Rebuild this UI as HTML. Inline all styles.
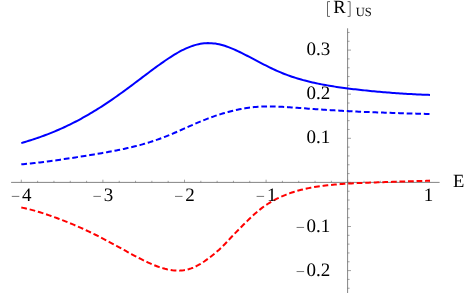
<!DOCTYPE html>
<html><head><meta charset="utf-8"><style>
html,body{margin:0;padding:0;background:#fff;}
svg{display:block;font-family:"Liberation Serif",serif;fill:#000;will-change:transform;}
text{text-rendering:geometricPrecision;}
</style></head><body>
<svg width="474" height="293" viewBox="0 0 474 293">
<rect width="474" height="293" fill="#fff"/>
<g stroke="#646464" fill="none">
<line x1="11.1" y1="182.4" x2="439.6" y2="182.4" stroke-width="0.8"/>
<line x1="347.6" y1="28.3" x2="347.6" y2="293" stroke-width="0.8"/>
<line x1="21.30" y1="182.4" x2="21.30" y2="179.70000000000002" stroke-width="0.6"/>
<line x1="37.62" y1="182.4" x2="37.62" y2="180.8" stroke-width="0.6"/>
<line x1="53.94" y1="182.4" x2="53.94" y2="180.8" stroke-width="0.6"/>
<line x1="70.26" y1="182.4" x2="70.26" y2="180.8" stroke-width="0.6"/>
<line x1="86.58" y1="182.4" x2="86.58" y2="180.8" stroke-width="0.6"/>
<line x1="102.90" y1="182.4" x2="102.90" y2="179.70000000000002" stroke-width="0.6"/>
<line x1="119.22" y1="182.4" x2="119.22" y2="180.8" stroke-width="0.6"/>
<line x1="135.54" y1="182.4" x2="135.54" y2="180.8" stroke-width="0.6"/>
<line x1="151.86" y1="182.4" x2="151.86" y2="180.8" stroke-width="0.6"/>
<line x1="168.18" y1="182.4" x2="168.18" y2="180.8" stroke-width="0.6"/>
<line x1="184.50" y1="182.4" x2="184.50" y2="179.70000000000002" stroke-width="0.6"/>
<line x1="200.82" y1="182.4" x2="200.82" y2="180.8" stroke-width="0.6"/>
<line x1="217.14" y1="182.4" x2="217.14" y2="180.8" stroke-width="0.6"/>
<line x1="233.46" y1="182.4" x2="233.46" y2="180.8" stroke-width="0.6"/>
<line x1="249.78" y1="182.4" x2="249.78" y2="180.8" stroke-width="0.6"/>
<line x1="266.10" y1="182.4" x2="266.10" y2="179.70000000000002" stroke-width="0.6"/>
<line x1="282.42" y1="182.4" x2="282.42" y2="180.8" stroke-width="0.6"/>
<line x1="298.74" y1="182.4" x2="298.74" y2="180.8" stroke-width="0.6"/>
<line x1="315.06" y1="182.4" x2="315.06" y2="180.8" stroke-width="0.6"/>
<line x1="331.38" y1="182.4" x2="331.38" y2="180.8" stroke-width="0.6"/>
<line x1="347.70" y1="182.4" x2="347.70" y2="179.70000000000002" stroke-width="0.6"/>
<line x1="364.02" y1="182.4" x2="364.02" y2="180.8" stroke-width="0.6"/>
<line x1="380.34" y1="182.4" x2="380.34" y2="180.8" stroke-width="0.6"/>
<line x1="396.66" y1="182.4" x2="396.66" y2="180.8" stroke-width="0.6"/>
<line x1="412.98" y1="182.4" x2="412.98" y2="180.8" stroke-width="0.6"/>
<line x1="429.30" y1="182.4" x2="429.30" y2="179.70000000000002" stroke-width="0.6"/>
<line x1="347.6" y1="288.24" x2="349.6" y2="288.24" stroke-width="0.6"/>
<line x1="347.6" y1="279.42" x2="349.6" y2="279.42" stroke-width="0.6"/>
<line x1="347.6" y1="270.60" x2="351.0" y2="270.60" stroke-width="0.6"/>
<line x1="347.6" y1="261.78" x2="349.6" y2="261.78" stroke-width="0.6"/>
<line x1="347.6" y1="252.96" x2="349.6" y2="252.96" stroke-width="0.6"/>
<line x1="347.6" y1="244.14" x2="349.6" y2="244.14" stroke-width="0.6"/>
<line x1="347.6" y1="235.32" x2="349.6" y2="235.32" stroke-width="0.6"/>
<line x1="347.6" y1="226.50" x2="351.0" y2="226.50" stroke-width="0.6"/>
<line x1="347.6" y1="217.68" x2="349.6" y2="217.68" stroke-width="0.6"/>
<line x1="347.6" y1="208.86" x2="349.6" y2="208.86" stroke-width="0.6"/>
<line x1="347.6" y1="200.04" x2="349.6" y2="200.04" stroke-width="0.6"/>
<line x1="347.6" y1="191.22" x2="349.6" y2="191.22" stroke-width="0.6"/>
<line x1="347.6" y1="182.40" x2="351.0" y2="182.40" stroke-width="0.6"/>
<line x1="347.6" y1="173.58" x2="349.6" y2="173.58" stroke-width="0.6"/>
<line x1="347.6" y1="164.76" x2="349.6" y2="164.76" stroke-width="0.6"/>
<line x1="347.6" y1="155.94" x2="349.6" y2="155.94" stroke-width="0.6"/>
<line x1="347.6" y1="147.12" x2="349.6" y2="147.12" stroke-width="0.6"/>
<line x1="347.6" y1="138.30" x2="351.0" y2="138.30" stroke-width="0.6"/>
<line x1="347.6" y1="129.48" x2="349.6" y2="129.48" stroke-width="0.6"/>
<line x1="347.6" y1="120.66" x2="349.6" y2="120.66" stroke-width="0.6"/>
<line x1="347.6" y1="111.84" x2="349.6" y2="111.84" stroke-width="0.6"/>
<line x1="347.6" y1="103.02" x2="349.6" y2="103.02" stroke-width="0.6"/>
<line x1="347.6" y1="94.20" x2="351.0" y2="94.20" stroke-width="0.6"/>
<line x1="347.6" y1="85.38" x2="349.6" y2="85.38" stroke-width="0.6"/>
<line x1="347.6" y1="76.56" x2="349.6" y2="76.56" stroke-width="0.6"/>
<line x1="347.6" y1="67.74" x2="349.6" y2="67.74" stroke-width="0.6"/>
<line x1="347.6" y1="58.92" x2="349.6" y2="58.92" stroke-width="0.6"/>
<line x1="347.6" y1="50.10" x2="351.0" y2="50.10" stroke-width="0.6"/>
<line x1="347.6" y1="41.28" x2="349.6" y2="41.28" stroke-width="0.6"/>
<line x1="347.6" y1="32.46" x2="349.6" y2="32.46" stroke-width="0.6"/>
</g>
<path d="M21.30,143.10 L23.17,142.54 L25.03,141.98 L26.90,141.41 L28.76,140.82 L30.63,140.23 L32.50,139.62 L34.36,139.00 L36.23,138.38 L38.10,137.73 L39.96,137.08 L41.83,136.41 L43.69,135.73 L45.56,135.03 L47.43,134.32 L49.29,133.60 L51.16,132.85 L53.03,132.10 L54.89,131.33 L56.76,130.54 L58.62,129.73 L60.49,128.91 L62.36,128.08 L64.22,127.22 L66.09,126.35 L67.96,125.47 L69.82,124.56 L71.69,123.64 L73.55,122.70 L75.42,121.74 L77.29,120.77 L79.15,119.78 L81.02,118.77 L82.88,117.74 L84.75,116.70 L86.62,115.64 L88.48,114.56 L90.35,113.47 L92.22,112.35 L94.08,111.23 L95.95,110.08 L97.81,108.92 L99.68,107.74 L101.55,106.54 L103.41,105.33 L105.28,104.11 L107.15,102.87 L109.01,101.61 L110.88,100.34 L112.74,99.06 L114.61,97.76 L116.48,96.45 L118.34,95.13 L120.21,93.79 L122.08,92.45 L123.94,91.09 L125.81,89.72 L127.67,88.35 L129.54,86.97 L131.41,85.58 L133.27,84.19 L135.14,82.79 L137.01,81.39 L138.87,79.98 L140.74,78.58 L142.60,77.17 L144.47,75.76 L146.34,74.36 L148.20,72.96 L150.07,71.56 L151.93,70.17 L153.80,68.79 L155.67,67.42 L157.53,66.06 L159.40,64.71 L161.27,63.38 L163.13,62.07 L165.00,60.77 L166.86,59.50 L168.73,58.26 L170.60,57.04 L172.46,55.85 L174.33,54.69 L176.20,53.58 L178.06,52.50 L179.93,51.46 L181.79,50.48 L183.66,49.54 L185.53,48.66 L187.39,47.83 L189.26,47.06 L191.13,46.35 L192.99,45.71 L194.86,45.13 L196.72,44.62 L198.59,44.18 L200.46,43.82 L202.32,43.53 L204.19,43.32 L206.05,43.18 L207.92,43.11 L209.79,43.13 L211.65,43.21 L213.52,43.38 L215.39,43.61 L217.25,43.92 L219.12,44.30 L220.98,44.75 L222.85,45.26 L224.72,45.82 L226.58,46.45 L228.45,47.12 L230.32,47.85 L232.18,48.61 L234.05,49.41 L235.91,50.25 L237.78,51.11 L239.65,52.00 L241.51,52.91 L243.38,53.85 L245.25,54.79 L247.11,55.75 L248.98,56.72 L250.84,57.70 L252.71,58.68 L254.58,59.66 L256.44,60.65 L258.31,61.63 L260.17,62.60 L262.04,63.57 L263.91,64.53 L265.77,65.47 L267.64,66.41 L269.51,67.33 L271.37,68.23 L273.24,69.11 L275.10,69.98 L276.97,70.82 L278.84,71.64 L280.70,72.44 L282.57,73.21 L284.44,73.96 L286.30,74.68 L288.17,75.37 L290.03,76.04 L291.90,76.69 L293.77,77.31 L295.63,77.91 L297.50,78.49 L299.37,79.04 L301.23,79.57 L303.10,80.09 L304.96,80.59 L306.83,81.06 L308.70,81.53 L310.56,81.97 L312.43,82.41 L314.29,82.82 L316.16,83.23 L318.03,83.62 L319.89,84.00 L321.76,84.36 L323.63,84.72 L325.49,85.06 L327.36,85.39 L329.22,85.71 L331.09,86.03 L332.96,86.33 L334.82,86.62 L336.69,86.91 L338.56,87.18 L340.42,87.45 L342.29,87.71 L344.15,87.97 L346.02,88.22 L347.89,88.46 L349.75,88.69 L351.62,88.92 L353.49,89.15 L355.35,89.36 L357.22,89.58 L359.08,89.79 L360.95,89.99 L362.82,90.19 L364.68,90.38 L366.55,90.58 L368.42,90.76 L370.28,90.95 L372.15,91.13 L374.01,91.30 L375.88,91.47 L377.75,91.64 L379.61,91.81 L381.48,91.97 L383.34,92.13 L385.21,92.29 L387.08,92.44 L388.94,92.59 L390.81,92.74 L392.68,92.88 L394.54,93.02 L396.41,93.16 L398.27,93.29 L400.14,93.42 L402.01,93.55 L403.87,93.67 L405.74,93.79 L407.61,93.90 L409.47,94.02 L411.34,94.12 L413.20,94.22 L415.07,94.32 L416.94,94.41 L418.80,94.50 L420.67,94.58 L422.54,94.66 L424.40,94.73 L426.27,94.79 L428.13,94.85 L430.00,94.90" fill="none" stroke="#0000ff" stroke-width="2.0" stroke-linejoin="round"/>
<path d="M21.30,164.30 L23.16,164.15 L25.03,163.99 L26.89,163.83 L28.76,163.65 L30.62,163.46 L32.48,163.27 L34.35,163.07 L36.21,162.86 L38.08,162.64 L39.94,162.42 L41.80,162.19 L43.67,161.96 L45.53,161.72 L47.39,161.47 L49.26,161.22 L51.12,160.97 L52.99,160.71 L54.85,160.45 L56.71,160.19 L58.58,159.92 L60.44,159.65 L62.31,159.38 L64.17,159.11 L66.03,158.83 L67.90,158.55 L69.76,158.27 L71.63,157.99 L73.49,157.70 L75.35,157.42 L77.22,157.13 L79.08,156.84 L80.95,156.55 L82.81,156.25 L84.67,155.96 L86.54,155.66 L88.40,155.36 L90.27,155.05 L92.13,154.75 L93.99,154.44 L95.86,154.13 L97.72,153.82 L99.58,153.50 L101.45,153.18 L103.31,152.85 L105.18,152.52 L107.04,152.19 L108.90,151.85 L110.77,151.51 L112.63,151.16 L114.50,150.80 L116.36,150.44 L118.22,150.07 L120.09,149.69 L121.95,149.31 L123.82,148.91 L125.68,148.51 L127.54,148.10 L129.41,147.67 L131.27,147.24 L133.14,146.79 L135.00,146.33 L136.86,145.86 L138.73,145.38 L140.59,144.88 L142.46,144.36 L144.32,143.83 L146.18,143.28 L148.05,142.72 L149.91,142.14 L151.77,141.54 L153.64,140.92 L155.50,140.29 L157.37,139.63 L159.23,138.96 L161.09,138.27 L162.96,137.57 L164.82,136.84 L166.69,136.11 L168.55,135.36 L170.41,134.59 L172.28,133.81 L174.14,133.02 L176.01,132.22 L177.87,131.41 L179.73,130.60 L181.60,129.77 L183.46,128.95 L185.33,128.12 L187.19,127.29 L189.05,126.46 L190.92,125.63 L192.78,124.81 L194.65,124.00 L196.51,123.19 L198.37,122.40 L200.24,121.62 L202.10,120.85 L203.96,120.09 L205.83,119.35 L207.69,118.63 L209.56,117.92 L211.42,117.24 L213.28,116.57 L215.15,115.92 L217.01,115.29 L218.88,114.68 L220.74,114.09 L222.60,113.52 L224.47,112.97 L226.33,112.44 L228.20,111.93 L230.06,111.44 L231.92,110.97 L233.79,110.52 L235.65,110.09 L237.52,109.68 L239.38,109.30 L241.24,108.94 L243.11,108.60 L244.97,108.29 L246.84,108.00 L248.70,107.73 L250.56,107.49 L252.43,107.28 L254.29,107.09 L256.15,106.92 L258.02,106.79 L259.88,106.67 L261.75,106.58 L263.61,106.51 L265.47,106.47 L267.34,106.44 L269.20,106.44 L271.07,106.45 L272.93,106.48 L274.79,106.52 L276.66,106.58 L278.52,106.65 L280.39,106.73 L282.25,106.83 L284.11,106.93 L285.98,107.04 L287.84,107.15 L289.71,107.27 L291.57,107.40 L293.43,107.53 L295.30,107.66 L297.16,107.80 L299.03,107.94 L300.89,108.08 L302.75,108.21 L304.62,108.35 L306.48,108.49 L308.34,108.63 L310.21,108.77 L312.07,108.91 L313.94,109.04 L315.80,109.17 L317.66,109.30 L319.53,109.43 L321.39,109.56 L323.26,109.68 L325.12,109.80 L326.98,109.92 L328.85,110.04 L330.71,110.15 L332.58,110.26 L334.44,110.37 L336.30,110.48 L338.17,110.59 L340.03,110.69 L341.90,110.80 L343.76,110.90 L345.62,110.99 L347.49,111.09 L349.35,111.19 L351.22,111.28 L353.08,111.37 L354.94,111.46 L356.81,111.55 L358.67,111.63 L360.53,111.72 L362.40,111.80 L364.26,111.88 L366.13,111.96 L367.99,112.04 L369.85,112.11 L371.72,112.19 L373.58,112.26 L375.45,112.34 L377.31,112.41 L379.17,112.48 L381.04,112.54 L382.90,112.61 L384.77,112.68 L386.63,112.74 L388.49,112.81 L390.36,112.87 L392.22,112.93 L394.09,112.99 L395.95,113.05 L397.81,113.11 L399.68,113.17 L401.54,113.22 L403.41,113.28 L405.27,113.34 L407.13,113.39 L409.00,113.45 L410.86,113.50 L412.72,113.55 L414.59,113.60 L416.45,113.66 L418.32,113.71 L420.18,113.76 L422.04,113.81 L423.91,113.86 L425.77,113.91 L427.64,113.96 L429.50,114.01" fill="none" stroke="#0000ff" stroke-width="2.0" stroke-dasharray="5.737,2.825"/>
<path d="M21.30,207.50 L23.17,207.87 L25.03,208.27 L26.90,208.70 L28.76,209.15 L30.63,209.62 L32.50,210.11 L34.36,210.63 L36.23,211.16 L38.10,211.71 L39.96,212.28 L41.83,212.87 L43.69,213.47 L45.56,214.08 L47.43,214.71 L49.29,215.35 L51.16,216.00 L53.03,216.67 L54.89,217.35 L56.76,218.04 L58.62,218.74 L60.49,219.45 L62.36,220.17 L64.22,220.90 L66.09,221.64 L67.96,222.39 L69.82,223.15 L71.69,223.92 L73.55,224.70 L75.42,225.49 L77.29,226.30 L79.15,227.11 L81.02,227.94 L82.88,228.78 L84.75,229.64 L86.62,230.50 L88.48,231.38 L90.35,232.27 L92.22,233.17 L94.08,234.09 L95.95,235.02 L97.81,235.95 L99.68,236.90 L101.55,237.86 L103.41,238.83 L105.28,239.81 L107.15,240.80 L109.01,241.80 L110.88,242.80 L112.74,243.81 L114.61,244.83 L116.48,245.85 L118.34,246.88 L120.21,247.90 L122.08,248.93 L123.94,249.96 L125.81,250.99 L127.67,252.01 L129.54,253.03 L131.41,254.04 L133.27,255.05 L135.14,256.04 L137.01,257.03 L138.87,258.00 L140.74,258.95 L142.60,259.89 L144.47,260.81 L146.34,261.70 L148.20,262.57 L150.07,263.42 L151.93,264.23 L153.80,265.01 L155.67,265.75 L157.53,266.45 L159.40,267.11 L161.27,267.73 L163.13,268.30 L165.00,268.81 L166.86,269.27 L168.73,269.67 L170.60,270.01 L172.46,270.28 L174.33,270.48 L176.20,270.61 L178.06,270.66 L179.93,270.62 L181.79,270.50 L183.66,270.28 L185.53,269.97 L187.39,269.56 L189.26,269.04 L191.13,268.43 L192.99,267.71 L194.86,266.89 L196.72,265.97 L198.59,264.96 L200.46,263.87 L202.32,262.70 L204.19,261.47 L206.05,260.17 L207.92,258.82 L209.79,257.42 L211.65,255.97 L213.52,254.47 L215.39,252.92 L217.25,251.31 L219.12,249.64 L220.98,247.90 L222.85,246.09 L224.72,244.20 L226.58,242.24 L228.45,240.24 L230.32,238.23 L232.18,236.23 L234.05,234.26 L235.91,232.33 L237.78,230.43 L239.65,228.54 L241.51,226.67 L243.38,224.80 L245.25,222.94 L247.11,221.09 L248.98,219.27 L250.84,217.48 L252.71,215.74 L254.58,214.05 L256.44,212.42 L258.31,210.85 L260.17,209.35 L262.04,207.91 L263.91,206.55 L265.77,205.25 L267.64,204.01 L269.51,202.83 L271.37,201.72 L273.24,200.65 L275.10,199.64 L276.97,198.68 L278.84,197.77 L280.70,196.90 L282.57,196.08 L284.44,195.30 L286.30,194.56 L288.17,193.85 L290.03,193.18 L291.90,192.55 L293.77,191.94 L295.63,191.37 L297.50,190.83 L299.37,190.32 L301.23,189.83 L303.10,189.37 L304.96,188.94 L306.83,188.53 L308.70,188.14 L310.56,187.77 L312.43,187.43 L314.29,187.10 L316.16,186.80 L318.03,186.51 L319.89,186.23 L321.76,185.98 L323.63,185.74 L325.49,185.51 L327.36,185.29 L329.22,185.09 L331.09,184.90 L332.96,184.72 L334.82,184.55 L336.69,184.40 L338.56,184.25 L340.42,184.10 L342.29,183.97 L344.15,183.84 L346.02,183.72 L347.89,183.61 L349.75,183.50 L351.62,183.40 L353.49,183.30 L355.35,183.21 L357.22,183.12 L359.08,183.04 L360.95,182.95 L362.82,182.87 L364.68,182.80 L366.55,182.73 L368.42,182.65 L370.28,182.58 L372.15,182.52 L374.01,182.45 L375.88,182.39 L377.75,182.32 L379.61,182.26 L381.48,182.20 L383.34,182.13 L385.21,182.07 L387.08,182.01 L388.94,181.95 L390.81,181.89 L392.68,181.83 L394.54,181.77 L396.41,181.71 L398.27,181.65 L400.14,181.60 L402.01,181.54 L403.87,181.48 L405.74,181.42 L407.61,181.37 L409.47,181.31 L411.34,181.25 L413.20,181.20 L415.07,181.15 L416.94,181.10 L418.80,181.05 L420.67,181.00 L422.54,180.95 L424.40,180.91 L426.27,180.87 L428.13,180.83 L430.00,180.80" fill="none" stroke="#ff0000" stroke-width="2.0" stroke-dasharray="5.734,2.824"/>
<line x1="11.80" y1="196.40" x2="19.30" y2="196.40" stroke="#3a3a3a" stroke-width="0.7"/>
<text x="22.10" y="200.70" font-size="19.0" text-anchor="start" >4</text>
<line x1="93.40" y1="196.40" x2="100.90" y2="196.40" stroke="#3a3a3a" stroke-width="0.7"/>
<text x="103.70" y="200.70" font-size="19.0" text-anchor="start" >3</text>
<line x1="175.00" y1="196.40" x2="182.50" y2="196.40" stroke="#3a3a3a" stroke-width="0.7"/>
<text x="185.30" y="200.70" font-size="19.0" text-anchor="start" >2</text>
<line x1="256.60" y1="196.40" x2="264.10" y2="196.40" stroke="#3a3a3a" stroke-width="0.7"/>
<text x="266.90" y="200.70" font-size="19.0" text-anchor="start" >1</text>
<text x="428.40" y="200.70" font-size="19.0" text-anchor="middle" >1</text>
<text x="306.40" y="55.10" font-size="19.0" text-anchor="start" >0.3</text>
<text x="306.40" y="99.20" font-size="19.0" text-anchor="start" >0.2</text>
<text x="306.40" y="143.30" font-size="19.0" text-anchor="start" >0.1</text>
<text x="306.40" y="232.00" font-size="19.0" text-anchor="start" >0.1</text>
<line x1="296.60" y1="227.45" x2="304.10" y2="227.45" stroke="#3a3a3a" stroke-width="0.7"/>
<text x="306.40" y="276.10" font-size="19.0" text-anchor="start" >0.2</text>
<line x1="296.60" y1="271.55" x2="304.10" y2="271.55" stroke="#3a3a3a" stroke-width="0.7"/>
<text x="453.00" y="186.90" font-size="18.6" text-anchor="start" >E</text>
<text x="333.30" y="13.30" font-size="18.6" text-anchor="start" >R</text>
<text x="355.70" y="16.10" font-size="12.5" text-anchor="start" >US</text>
<path d="M330,1.6 H327.5 V16.4 H330" fill="none" stroke="#666" stroke-width="1.0"/>
<path d="M347.6,1.6 H350.1 V16.4 H347.6" fill="none" stroke="#666" stroke-width="1.0"/>
</svg>
</body></html>
